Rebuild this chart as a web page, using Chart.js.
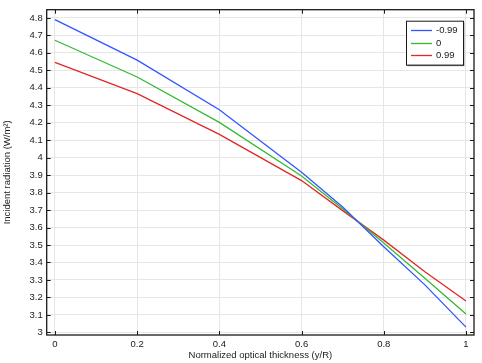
<!DOCTYPE html>
<html>
<head>
<meta charset="utf-8">
<script src="https://cdn.jsdelivr.net/npm/chart.js@4.4.0/dist/chart.umd.min.js"></script>
<style>
  html, body { margin: 0; padding: 0; background: #fff; }
  #wrap { width: 482px; height: 363px; }
</style>
</head>
<body>
<div id="wrap"><canvas id="chart" width="482" height="363"></canvas></div>
<script>
// values
const xValues = [0, 0.2, 0.4, 0.6, 0.7, 0.8, 0.9, 1];
const seriesLabels = ['-0.99', '0', '0.99'];
const blueValues = [4.79, 4.558, 4.274, 3.916, 3.718, 3.490, 3.272, 3.030];
const greenValues = [4.672, 4.462, 4.202, 3.895, 3.707, 3.511, 3.310, 3.105];
const redValues = [4.545, 4.367, 4.133, 3.869, 3.697, 3.528, 3.347, 3.180];
const xTicks = [0, 0.2, 0.4, 0.6, 0.8, 1];
const yTicks = [3, 3.1, 3.2, 3.3, 3.4, 3.5, 3.6, 3.7, 3.8, 3.9, 4, 4.1, 4.2, 4.3, 4.4, 4.5, 4.6, 4.7, 4.8];

const colors = ['#3355ff', '#33bb33', '#e02828'];
const fontFamily = '"Liberation Sans", Arial, sans-serif';

function toPoints(ys) {
    return xValues.map((x, i) => ({ x: x, y: ys[i] }));
}

function fmt(v) {
    return String(parseFloat(Number(v).toFixed(2)));
}

// frame round the plot area, with ticks pointing inwards
const framePlugin = {
    id: 'frame',
    afterDatasetsDraw(chart) {
        const ctx = chart.ctx;
        const a = chart.chartArea;
        const xs = chart.scales.x, ys = chart.scales.y;
        ctx.save();
        ctx.strokeStyle = '#1a1a1a';
        ctx.lineWidth = 1.3;
        ctx.strokeRect(a.left, a.top, a.right - a.left, a.bottom - a.top);
        ctx.lineWidth = 1;
        ctx.beginPath();
        xTicks.forEach(v => {
            const px = Math.round(xs.getPixelForValue(v)) + 0.5;
            ctx.moveTo(px, a.bottom); ctx.lineTo(px, a.bottom - 4);
            ctx.moveTo(px, a.top); ctx.lineTo(px, a.top + 4);
        });
        yTicks.forEach(v => {
            const py = Math.round(ys.getPixelForValue(v)) + 0.5;
            ctx.moveTo(a.left, py); ctx.lineTo(a.left + 4, py);
            ctx.moveTo(a.right, py); ctx.lineTo(a.right - 4, py);
        });
        ctx.stroke();
        ctx.restore();
    }
};

// boxed legend in the top right corner
const boxLegendPlugin = {
    id: 'boxLegend',
    afterDraw(chart) {
        const ctx = chart.ctx;
        const a = chart.chartArea;
        const w = 57, h = 44;
        const left = a.right - 11 - w;
        const top = a.top + 11;
        ctx.save();
        ctx.fillStyle = '#999';
        ctx.fillRect(left + 1.5, top + 1.5, w, h);
        ctx.fillStyle = '#fff';
        ctx.fillRect(left, top, w, h);
        ctx.strokeStyle = '#1a1a1a';
        ctx.lineWidth = 1;
        ctx.strokeRect(left + 0.5, top + 0.5, w, h);
        ctx.font = '9.5px ' + fontFamily;
        ctx.textBaseline = 'middle';
        seriesLabels.forEach((label, i) => {
            const y = Math.round(top + 9.5 + i * 12.5) + 0.5;
            ctx.beginPath();
            ctx.strokeStyle = colors[i];
            ctx.lineWidth = 1.3;
            ctx.moveTo(left + 5, y);
            ctx.lineTo(left + 26, y);
            ctx.stroke();
            ctx.fillStyle = '#1a1a1a';
            ctx.fillText(label, left + 30, y);
        });
        ctx.restore();
    }
};

const ctx = document.getElementById('chart').getContext('2d');
new Chart(ctx, {
    type: 'line',
    data: {
        datasets: [
            { label: seriesLabels[0], data: toPoints(blueValues), borderColor: colors[0] },
            { label: seriesLabels[1], data: toPoints(greenValues), borderColor: colors[1] },
            { label: seriesLabels[2], data: toPoints(redValues), borderColor: colors[2] }
        ]
    },
    options: {
        responsive: false,
        animation: false,
        layout: { padding: { top: 4, right: 8, left: 0, bottom: 0 } },
        elements: {
            line: { borderWidth: 1.3, tension: 0, fill: false },
            point: { radius: 0 }
        },
        plugins: {
            legend: { display: false },
            tooltip: { enabled: false }
        },
        scales: {
            x: {
                type: 'linear',
                min: -0.02,
                max: 1.0195,
                afterBuildTicks: s => { s.ticks = xTicks.map(v => ({ value: v })); },
                afterFit: s => { s.height = 28; },
                ticks: {
                    callback: v => fmt(v),
                    font: { family: fontFamily, size: 9.5 },
                    color: '#1a1a1a',
                    padding: 4,
                    maxRotation: 0,
                    autoSkip: false
                },
                grid: { color: '#e6e6e6', drawTicks: false, tickLength: 0 },
                border: { display: false },
                title: {
                    display: true,
                    text: 'Normalized optical thickness (y/R)',
                    font: { family: fontFamily, size: 9.5 },
                    color: '#1a1a1a',
                    padding: { top: 0, bottom: 2 }
                }
            },
            y: {
                type: 'linear',
                min: 2.985,
                max: 4.847,
                afterBuildTicks: s => { s.ticks = yTicks.map(v => ({ value: v })); },
                afterFit: s => { s.width = 46.7; },
                ticks: {
                    callback: v => fmt(v),
                    font: { family: fontFamily, size: 9.5 },
                    color: '#1a1a1a',
                    padding: 4,
                    autoSkip: false
                },
                grid: { color: '#e6e6e6', drawTicks: false, tickLength: 0 },
                border: { display: false },
                title: {
                    display: true,
                    text: 'Incident radiation (W/m²)',
                    font: { family: fontFamily, size: 9.5 },
                    color: '#1a1a1a',
                    padding: { top: 2, bottom: 0 }
                }
            }
        }
    },
    plugins: [framePlugin, boxLegendPlugin]
});
</script>
</body>
</html>
